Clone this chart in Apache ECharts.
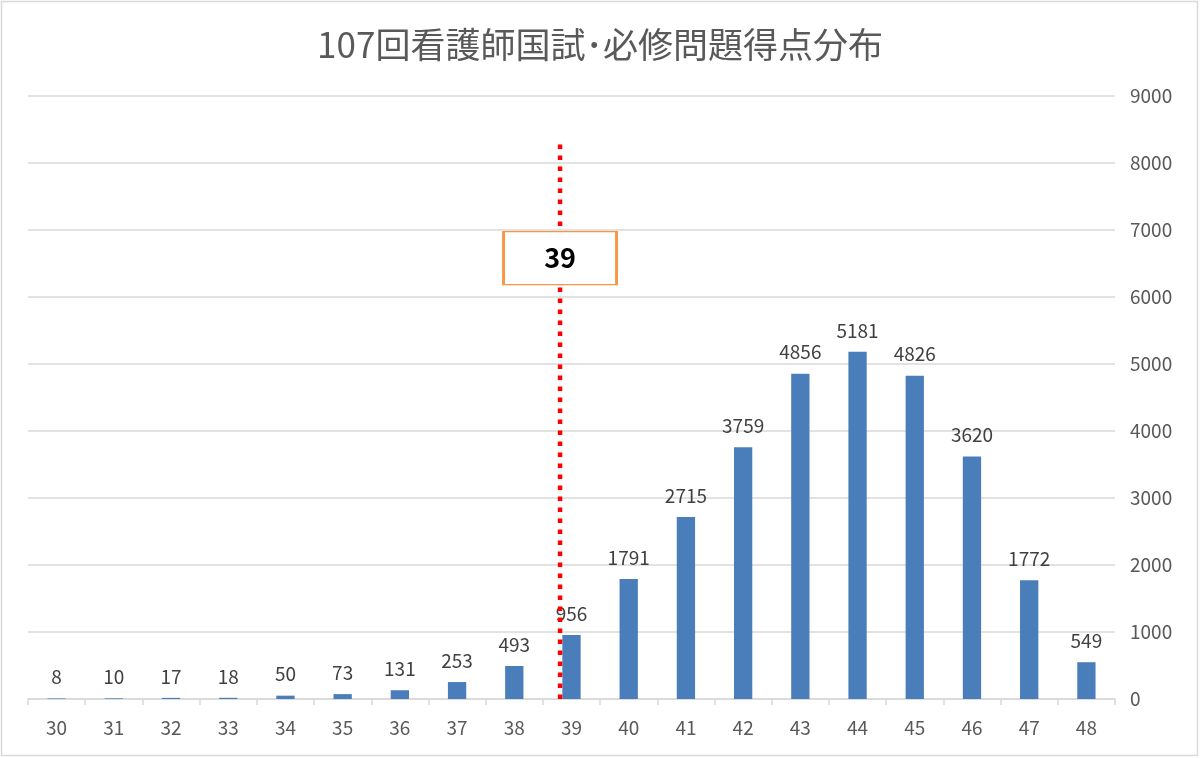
<!DOCTYPE html>
<html>
<head>
    <meta charset="utf-8">
    <title>107回看護師国試･必修問題得点分布</title>
    <script src="https://cdn.jsdelivr.net/npm/echarts@6.0.0/dist/echarts.min.js"></script>
    <style>
        html, body { margin: 0; padding: 0; background: #fff; }
        #chart { width: 1200px; height: 758px; }
    </style>
</head>
<body>
<div id="chart"></div>
<script>
    // 得点（カテゴリ）と人数
    const scores = ['30', '31', '32', '33', '34', '35', '36', '37', '38', '39',
        '40', '41', '42', '43', '44', '45', '46', '47', '48'];
    const counts = [8, 10, 17, 18, 50, 73, 131, 253, 493, 956,
        1791, 2715, 3759, 4856, 5181, 4826, 3620, 1772, 549];
    const yTicks = [0, 9000, 1000]; // min, max, interval

    // 合格ライン（39点）
    const passLineX = [38.8, 38.8];
    const passLineY = [0, 8300];
    const passLabel = ['39'];
    const passLabelPos = [38.8, 6580];

    const chart = echarts.init(document.getElementById('chart'));
    const font = '"Noto Sans CJK JP", "Noto Sans", sans-serif';

    const option = {
        animation: false,
        textStyle: { fontFamily: font },
        title: {
            text: '107回看護師国試･必修問題得点分布',
            left: 'center',
            top: 22,
            textStyle: { fontSize: 35, fontWeight: 'normal', color: '#595959', fontFamily: font }
        },
        graphic: [{
            type: 'rect',
            shape: { x: 1.5, y: 1.5, width: 1196, height: 754 },
            style: { fill: 'none', stroke: '#d9d9d9', lineWidth: 1.5 },
            silent: true
        }],
        grid: { left: 28, right: 85, top: 96, bottom: 59 },
        xAxis: [{
            type: 'category',
            data: scores,
            axisLine: { lineStyle: { color: '#d9d9d9', width: 1.5 } },
            axisTick: { show: true, length: 6, lineStyle: { color: '#d9d9d9', width: 1.5 } },
            axisLabel: { color: '#595959', fontSize: 19, margin: 19 }
        }, {
            type: 'value',
            min: 29.5,
            max: 48.5,
            show: false
        }],
        yAxis: {
            type: 'value',
            position: 'right',
            min: yTicks[0],
            max: yTicks[1],
            interval: yTicks[2],
            axisLine: { show: false },
            axisTick: { show: false },
            axisLabel: { color: '#595959', fontSize: 19, margin: 15, formatter: v => String(v) },
            splitLine: { lineStyle: { color: '#d9d9d9', width: 1.5 } }
        },
        series: [{
            type: 'bar',
            data: counts,
            barWidth: '32%',
            itemStyle: { color: '#4A7EBB' },
            label: {
                show: true,
                position: 'top',
                distance: 12,
                color: '#404040',
                fontSize: 19
            },
            z: 2
        }, {
            type: 'line',
            xAxisIndex: 1,
            data: passLineX.map((x, i) => [x, passLineY[i]]),
            symbol: 'none',
            lineStyle: { color: '#ff0000', width: 4.5, type: [4.5, 6.5], cap: 'butt' },
            silent: true,
            z: 3
        }, {
            type: 'scatter',
            xAxisIndex: 1,
            data: [passLabelPos],
            symbol: 'rect',
            symbolSize: [113, 53],
            itemStyle: { color: '#ffffff', borderColor: '#F79646', borderWidth: 2, opacity: 1 },
            label: {
                show: true,
                position: 'inside',
                formatter: () => passLabel[0],
                color: '#000000',
                fontSize: 27,
                fontWeight: 'bold'
            },
            silent: true,
            z: 4
        }]
    };
    chart.setOption(option);
</script>
</body>
</html>
